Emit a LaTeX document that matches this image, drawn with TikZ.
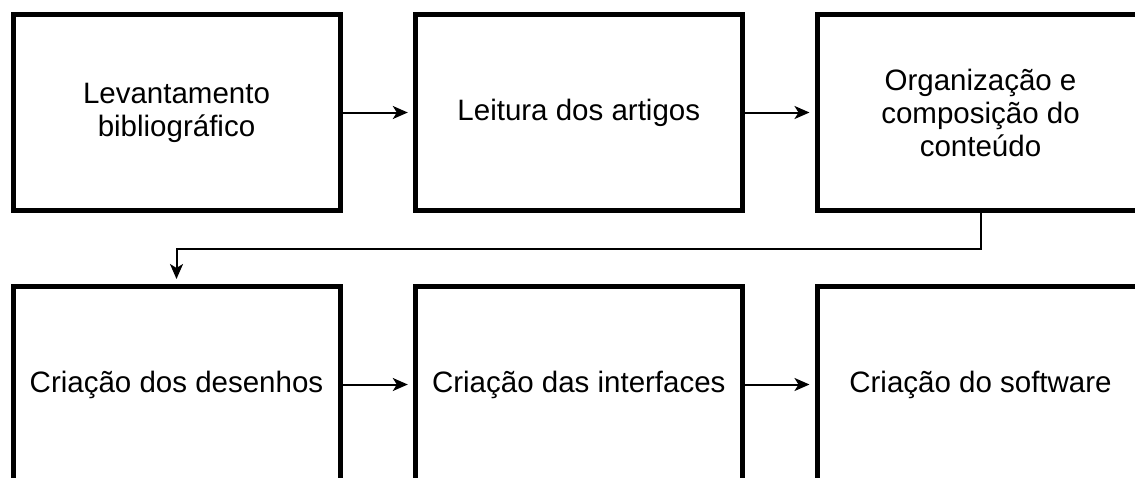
\documentclass[tikz,border=0pt]{standalone}
\usepackage{fontspec}
\setmainfont{Liberation Sans}
\usetikzlibrary{arrows.meta}

\begin{document}
\begin{tikzpicture}[x=1pt,y=-1pt]

        \clip (0,0) rectangle (1135,477);

        \begin{scope}[every node/.style={draw,line width=5pt,minimum width=327pt,
            minimum height=196pt,align=center,font=\fontsize{29.5}{33}\selectfont}]
          \node (1) at (176.5,112.5) {Levantamento\\bibliográfico};
          \node (2) at (578.8,112.5) {Leitura dos artigos};
          \node (3) at (980.5,112.5) {Organização e\\composição do\\conteúdo};
          \node (4) at (176.5,384.5) {Criação dos desenhos};
          \node (5) at (578.8,384.5) {Criação das interfaces};
          \node (6) at (980.5,384.5) {Criação do software};
        \end{scope}

        \coordinate (turn) at (980.5,249);

        \begin{scope}[every edge/.style={draw,line width=2pt,shorten >=5pt,
            -{Stealth[length=15pt,width=13pt,inset=4pt]}}]
          \path (1) edge (2);
          \path (2) edge (3);
          \path (4) edge (5);
          \path (5) edge (6);
        \end{scope}
        \draw[line width=2pt,shorten >=5pt,-{Stealth[length=15pt,width=13pt,inset=4pt]}]
          (3.south) -- (turn) -- (turn -| 4.north) -- (4.north);

      \end{tikzpicture}
\end{document}
